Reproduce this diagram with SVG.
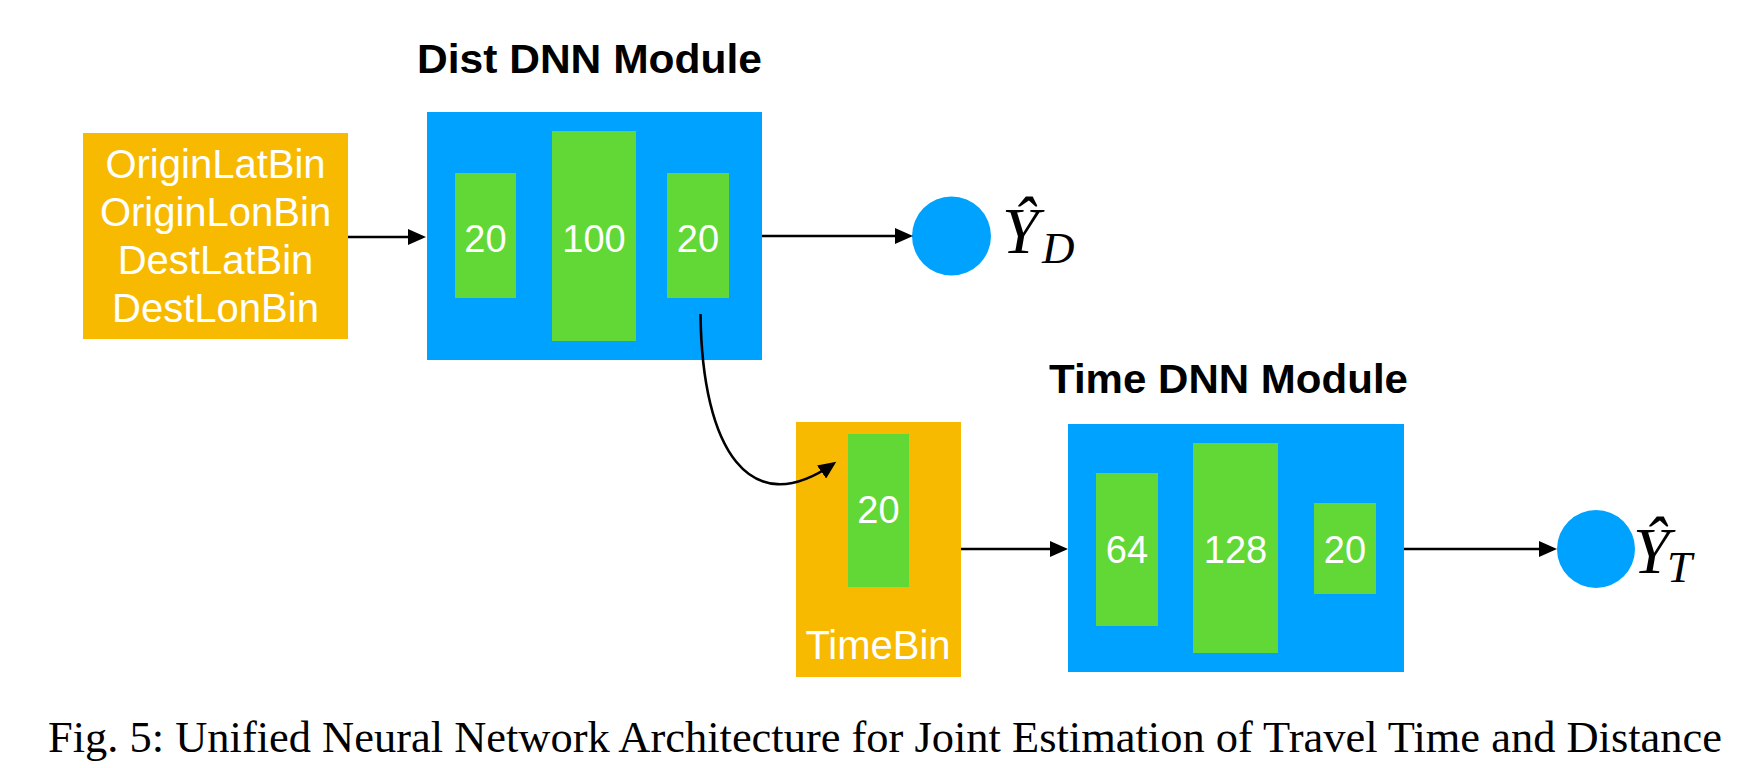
<svg xmlns="http://www.w3.org/2000/svg" width="1742" height="768" viewBox="0 0 1742 768">
<style>
.orange{fill:#F7BA00}
.blue{fill:#00A2FF}
.green{fill:#61D836}
.lbl{font-family:"Liberation Sans",Arial,sans-serif;font-size:40px;fill:#fff;text-anchor:middle}
.num{font-family:"Liberation Sans",Arial,sans-serif;font-size:38px;fill:#fff;text-anchor:middle}
.title{font-family:"Liberation Sans",Arial,sans-serif;font-size:40px;font-weight:bold;fill:#000}
.math{font-family:"Liberation Serif","Times New Roman",serif;font-style:italic;fill:#000}
.edge{fill:none;stroke:#000;stroke-width:2.6}
.cap{font-family:"Liberation Serif","Times New Roman",serif;font-size:44px;fill:#000}
</style>
<defs>
<marker id="ah" markerUnits="userSpaceOnUse" markerWidth="20" markerHeight="16" refX="14" refY="8" orient="auto">
<path d="M0,0 L18,8 L0,16 z" fill="#000"/>
</marker>
</defs>
<rect width="1742" height="768" fill="#fff"/>

<g id="inputs">
<rect class="orange" x="83" y="133" width="265" height="206"/>
<text class="lbl" x="215.5" y="178">OriginLatBin</text>
<text class="lbl" x="215.5" y="226">OriginLonBin</text>
<text class="lbl" x="215.5" y="274">DestLatBin</text>
<text class="lbl" x="215.5" y="322">DestLonBin</text>
</g>

<g id="dist-module">
<text class="title" x="417" y="73" textLength="345" lengthAdjust="spacingAndGlyphs">Dist DNN Module</text>
<rect class="blue" x="427" y="112" width="335" height="248"/>
<rect class="green" x="455" y="173" width="61" height="125"/>
<text class="num" x="485.5" y="252">20</text>
<rect class="green" x="552" y="131" width="84" height="210"/>
<text class="num" x="594" y="252">100</text>
<rect class="green" x="667" y="173" width="62" height="125"/>
<text class="num" x="698" y="252">20</text>
</g>

<g id="out-dist">
<circle class="blue" cx="951.5" cy="236" r="39.5"/>
<text class="math" x="1002" y="253" font-size="66">Ŷ<tspan x="1042" y="263" font-size="45">D</tspan></text>
</g>

<g id="timebin">
<rect class="orange" x="796" y="422" width="165" height="255"/>
<rect class="green" x="848" y="434" width="61" height="153"/>
<text class="num" x="878.5" y="523">20</text>
<text class="lbl" x="878" y="659">TimeBin</text>
</g>

<g id="time-module">
<text class="title" x="1049" y="393" textLength="359" lengthAdjust="spacingAndGlyphs">Time DNN Module</text>
<rect class="blue" x="1068" y="424" width="336" height="248"/>
<rect class="green" x="1096" y="473" width="62" height="153"/>
<text class="num" x="1127" y="563">64</text>
<rect class="green" x="1193" y="443" width="85" height="210"/>
<text class="num" x="1235.5" y="563">128</text>
<rect class="green" x="1314" y="503" width="62" height="91"/>
<text class="num" x="1345" y="563">20</text>
</g>

<g id="out-time">
<circle class="blue" cx="1596" cy="549" r="39"/>
<text class="math" x="1633" y="573" font-size="66">Ŷ<tspan x="1667" y="582" font-size="45">T</tspan></text>
</g>

<g id="connectors">
<path class="edge" d="M348,237 H422" marker-end="url(#ah)"/>
<path class="edge" d="M762,236 H909" marker-end="url(#ah)"/>
<path class="edge" d="M700.5,314 C702,450 750,522 833,464" marker-end="url(#ah)"/>
<path class="edge" d="M961,549 H1064" marker-end="url(#ah)"/>
<path class="edge" d="M1404,549 H1553" marker-end="url(#ah)"/>
</g>

<text class="cap" x="48" y="752" textLength="1674" lengthAdjust="spacingAndGlyphs">Fig. 5: Unified Neural Network Architecture for Joint Estimation of Travel Time and Distance</text>
</svg>
